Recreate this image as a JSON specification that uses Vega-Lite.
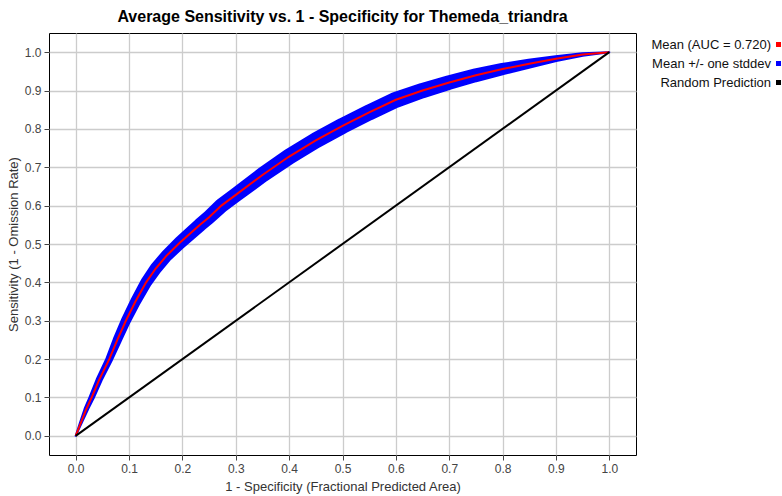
{
  "$schema": "https://vega.github.io/schema/vega-lite/v6.json",
  "width": 587,
  "height": 422,
  "autosize": {"type": "none"},
  "padding": {"left": 49, "top": 33, "right": 146, "bottom": 41},
  "background": "white",
  "title": {
    "text": "Average Sensitivity vs. 1 - Specificity for Themeda_triandra",
    "fontSize": 16,
    "font": "Liberation Sans",
    "fontWeight": "bold",
    "color": "#000000",
    "offset": 8,
    "anchor": "middle"
  },
  "config": {
    "font": "Liberation Sans",
    "view": {"stroke": "#000000", "strokeWidth": 1},
    "axis": {
      "domain": false,
      "grid": true,
      "gridColor": "#cccccc",
      "gridWidth": 1.3,
      "tickColor": "#444444",
      "tickSize": 5,
      "labelFontSize": 12,
      "labelColor": "#444444",
      "labelPadding": 3,
      "titleFontSize": 13,
      "titleFontWeight": "normal",
      "titleColor": "#333333"
    }
  },
  "datasets": {
    "roc": [
      {"x": 0, "mean": 0, "sd": 0.0025},
      {"x": 0.01, "mean": 0.035, "sd": 0.005},
      {"x": 0.02, "mean": 0.07, "sd": 0.007},
      {"x": 0.03, "mean": 0.1, "sd": 0.008},
      {"x": 0.044, "mean": 0.146, "sd": 0.009},
      {"x": 0.063, "mean": 0.2, "sd": 0.010},
      {"x": 0.078, "mean": 0.25, "sd": 0.012},
      {"x": 0.094, "mean": 0.3, "sd": 0.013},
      {"x": 0.112, "mean": 0.35, "sd": 0.014},
      {"x": 0.132, "mean": 0.4, "sd": 0.015},
      {"x": 0.15, "mean": 0.436, "sd": 0.016},
      {"x": 0.17, "mean": 0.469, "sd": 0.016},
      {"x": 0.195, "mean": 0.503, "sd": 0.017},
      {"x": 0.233, "mean": 0.55, "sd": 0.018},
      {"x": 0.25, "mean": 0.57, "sd": 0.018},
      {"x": 0.273, "mean": 0.6, "sd": 0.019},
      {"x": 0.3, "mean": 0.628, "sd": 0.019},
      {"x": 0.35, "mean": 0.68, "sd": 0.020},
      {"x": 0.4, "mean": 0.728, "sd": 0.021},
      {"x": 0.45, "mean": 0.77, "sd": 0.021},
      {"x": 0.5, "mean": 0.808, "sd": 0.021},
      {"x": 0.55, "mean": 0.843, "sd": 0.021},
      {"x": 0.6, "mean": 0.876, "sd": 0.021},
      {"x": 0.65, "mean": 0.9, "sd": 0.020},
      {"x": 0.7, "mean": 0.921, "sd": 0.019},
      {"x": 0.75, "mean": 0.94, "sd": 0.018},
      {"x": 0.8, "mean": 0.956, "sd": 0.016},
      {"x": 0.85, "mean": 0.97, "sd": 0.013},
      {"x": 0.9, "mean": 0.983, "sd": 0.009},
      {"x": 0.95, "mean": 0.994, "sd": 0.006},
      {"x": 1, "mean": 1, "sd": 0.0025}
    ],
    "diag": [
      {"x": 0, "y": 0},
      {"x": 1, "y": 1}
    ]
  },
  "layer": [
    {
      "data": {"name": "roc"},
      "mark": {"type": "trail"},
      "encoding": {
        "x": {
          "field": "x",
          "type": "quantitative",
          "scale": {"domain": [-0.05, 1.05], "nice": false, "zero": false},
          "axis": {
            "values": [0, 0.1, 0.2, 0.3, 0.4, 0.5, 0.6, 0.7, 0.8, 0.9, 1.0],
            "format": ".1f",
            "title": "1 - Specificity (Fractional Predicted Area)",
            "titlePadding": 6
          }
        },
        "y": {
          "field": "mean",
          "type": "quantitative",
          "scale": {"domain": [-0.05, 1.05], "nice": false, "zero": false},
          "axis": {
            "values": [0, 0.1, 0.2, 0.3, 0.4, 0.5, 0.6, 0.7, 0.8, 0.9, 1.0],
            "format": ".1f",
            "title": "Sensitivity (1 - Omission Rate)",
            "titlePadding": 4
          }
        },
        "size": {
          "field": "sd",
          "type": "quantitative",
          "scale": {"domain": [0, 0.022], "range": [0, 16.9], "zero": true},
          "legend": null
        },
        "color": {
          "datum": "Mean +/- one stddev",
          "type": "nominal",
          "scale": {
            "domain": ["Mean (AUC = 0.720)", "Mean +/- one stddev", "Random Prediction"],
            "range": ["#ff0000", "#0000ff", "#000000"]
          },
          "legend": {
            "title": null,
            "orient": "none",
            "legendX": 723,
            "legendY": 5,
            "symbolType": "square",
            "symbolSize": 25,
            "symbolStrokeWidth": 0,
            "labelAlign": "right",
            "labelOffset": -14,
            "labelFontSize": 13,
            "labelColor": "#111111",
            "rowPadding": 5,
            "encode": {
              "symbols": {
                "update": {
                  "fill": {"scale": "color", "field": "value"},
                  "stroke": {"value": "transparent"},
                  "opacity": {"value": 1}
                }
              }
            }
          }
        }
      }
    },
    {
      "data": {"name": "roc"},
      "mark": {"type": "line", "strokeWidth": 2},
      "encoding": {
        "x": {"field": "x", "type": "quantitative"},
        "y": {"field": "mean", "type": "quantitative"},
        "color": {"datum": "Mean (AUC = 0.720)", "type": "nominal"}
      }
    },
    {
      "data": {"name": "diag"},
      "mark": {"type": "line", "strokeWidth": 2},
      "encoding": {
        "x": {"field": "x", "type": "quantitative"},
        "y": {"field": "y", "type": "quantitative"},
        "color": {"datum": "Random Prediction", "type": "nominal"}
      }
    }
  ]
}
